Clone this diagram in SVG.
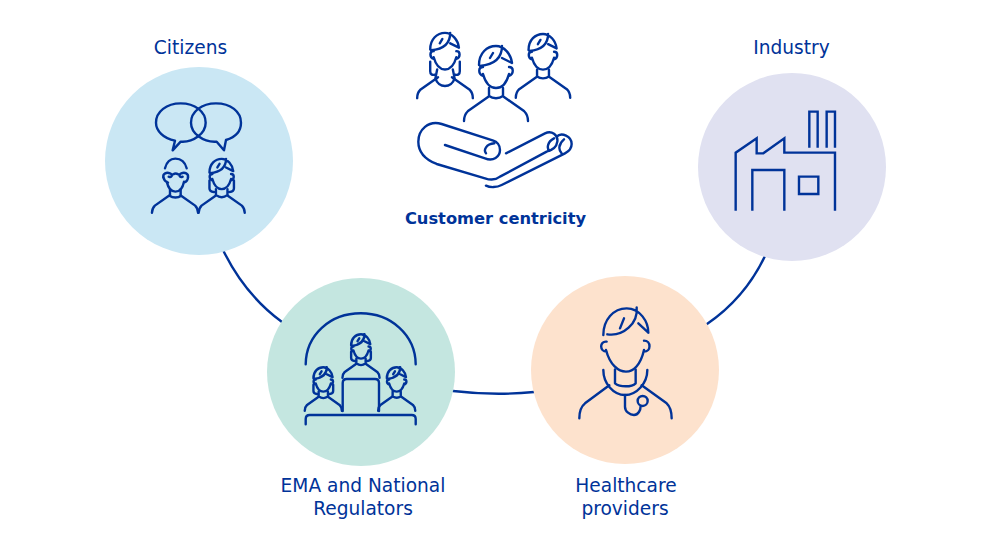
<svg xmlns="http://www.w3.org/2000/svg" width="991" height="551" viewBox="0 0 991 551">
<style>
.l{fill:none;stroke:#003399;stroke-width:2.4;stroke-linecap:round;stroke-linejoin:round}
.l *,defs *{vector-effect:non-scaling-stroke}
.t{font-family:"DejaVu Sans",Verdana,sans-serif;font-size:18.6px;fill:#003399;text-anchor:middle}
.b{font-weight:bold;font-size:16.3px}
</style>
<defs>
<g id="head">
<path d="M-17,-34C-17,-46 -9,-53 0,-53C8,-53 15,-45 16,-36M-16,-33C-6,-34 6,-38 6,-53M6,-41L16,-36M-6,-41L-3,-46"/>
<path d="M-13,-32C-18,-32 -18,-25 -13,-23M13,-32C18,-32 18,-25 13,-23M-13,-25C-10,-14 -5,-11 0,-11C5,-11 10,-14 13,-25"/>
</g>
<g id="shoulders"><path d="M-8,-2L-28,12C-31,15 -32,18 -32,22M8,-2L28,12C31,15 32,18 32,22"/></g>
<g id="man"><use href="#head"/><use href="#shoulders"/><path d="M-7,-11V-3C-3,0 3,0 7,-3V-11"/></g>
<g id="woman"><use href="#head"/><use href="#shoulders"/><path d="M-9,-11L-11,-1C-8,11 8,11 11,-1L9,-11M-17,-20V-9C-17,-6 -15,-4 -12,-5M17,-20V-9C17,-6 15,-4 12,-5"/></g>
<g id="woman2"><use href="#head"/><use href="#shoulders"/><path d="M-8,-11V-3C-3,1 3,1 8,-3V-11M-17,-23V-12C-17,-9 -15,-7 -11,-7M17,-23V-12C17,-9 15,-7 11,-7"/></g>
</defs>
<g id="connectors" class="l">
<path d="M223,250Q245,295 282,322"/>
<path d="M453,391Q495,396 534,392"/>
<path d="M707,324Q745,298 765,256"/>
</g>
<g id="customer-centricity">
<g class="l">
<use href="#woman" transform="translate(445,79) scale(.87)"/>
<use href="#man" transform="translate(496,99)"/>
<use href="#man" transform="translate(543,79) scale(.85)"/>
<g transform="translate(400,20) scale(.3333)">
<path d="M135,375L255,415C280,425 300,410 300,390C300,375 290,365 280,362L125,312C85,300 55,330 55,365C55,400 80,420 110,432L255,475C275,482 290,478 300,470L440,395C460,390 470,380 472,365C475,345 455,330 435,340L318,400"/>
<path d="M283,370C258,372 250,390 258,400M462,355C442,365 440,385 448,392"/>
<path d="M470,350C485,335 515,350 515,372C515,385 505,395 495,400L305,495C290,503 270,503 258,497M492,358C475,372 475,390 485,400"/>
</g>
</g>
<text class="t b" x="495.500" y="224">Customer centricity</text>
</g>
<g id="citizens">
<circle cx="199" cy="161" r="94" fill="#cae7f4"/>
<g class="l">
<g transform="translate(140,90) scale(.3333)">
<path d="M105,152C70,145 48,122 48,98C48,65 80,40 122,40C165,40 197,65 197,98C197,130 160,158 122,155L98,181Z"/>
<path d="M258,150C290,140 303,120 303,98C303,65 272,40 228,40C185,40 153,65 153,98C153,130 190,158 230,155L252,181Z"/>
<path d="M75,235C80,215 92,206 106,206C122,206 135,215 140,235"/>
<path d="M70,262C68,250 80,246 90,250C100,254 95,264 86,260M144,262C146,250 134,246 124,250C114,254 119,264 128,260M100,253C104,250 110,250 114,253"/>
<path d="M80,275C85,295 95,305 106,305C118,305 128,295 132,275M70,262C72,270 78,276 84,278M144,262C144,270 138,276 132,278"/>
<path d="M90,298V318C98,324 115,324 122,318V298"/>
</g>
<use href="#shoulders" transform="translate(175,197) scale(.72)"/>
<use href="#woman2" transform="translate(221.700,197) scale(.72)"/>
</g>
<text class="t" x="190.500" y="54">Citizens</text>
</g>
<g id="ema">
<circle cx="361" cy="372" r="94" fill="#c4e6e0"/>
<g class="l">
<path d="M305.700,364.300C306,335 330,313.300 360.700,313.300C391,313.300 415.500,335 415.700,364.300"/>
<use href="#woman2" transform="translate(361,365) scale(.58)"/>
<use href="#woman2" transform="translate(323.300,398) scale(.58)"/>
<use href="#man" transform="translate(396.700,398) scale(.58)"/>
<path d="M342.700,411V383Q342.700,379 346.700,379H375Q379,379 379,383V411"/>
<path d="M305.700,424.300V419Q305.700,415 309.700,415H411.700Q415.700,415 415.700,419V424.300"/>
</g>
<text class="t" x="363" y="492">EMA and National</text>
<text class="t" x="363" y="515">Regulators</text>
</g>
<g id="healthcare">
<circle cx="625" cy="370" r="94" fill="#fde2cd"/>
<g class="l" transform="translate(570,300) scale(.3333)">
<path d="M100,105C100,60 130,25 170,25C210,25 235,65 235,98M112,103C160,110 205,70 200,22M205,70L235,98M150,85L162,55"/>
<path d="M110,125C88,122 88,155 110,155M222,122C244,122 244,155 222,155M108,150C120,195 145,215 168,215C190,215 212,195 222,150"/>
<path d="M135,208V250C150,262 185,262 197,250V208"/>
<path d="M100,210C100,250 130,285 165,285C200,285 232,250 232,210"/>
<path d="M165,285V320C165,335 180,345 192,345C205,345 212,330 212,318"/>
<circle cx="218" cy="303" r="15"/>
<path d="M118,256L45,310C30,322 28,340 28,355M215,256L290,310C303,322 305,340 305,355"/>
</g>
<text class="t" x="626" y="492">Healthcare</text>
<text class="t" x="625" y="515">providers</text>
</g>
<g id="industry">
<circle cx="792" cy="167" r="94" fill="#e0e1f1"/>
<g class="l" style="stroke-linecap:butt;stroke-linejoin:miter" transform="translate(725,100) scale(.3333)">
<path d="M32,332V158L95,115V160H115L178,115V158H330V332"/>
<path d="M82,332V210H178V332"/>
<rect x="222" y="230" width="58" height="52"/>
<path d="M253,143V35H278V143M305,143V35H330V143"/>
</g>
<text class="t" x="791.500" y="54">Industry</text>
</g>
</svg>
